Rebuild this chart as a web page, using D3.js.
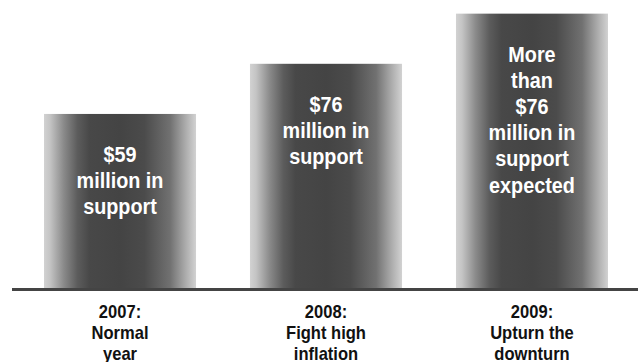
<!DOCTYPE html>
<html>
<head>
<meta charset="utf-8">
<script src="https://cdn.jsdelivr.net/npm/d3@7"></script>
<style>
  html, body { margin: 0; padding: 0; background: #fff; }
  svg { display: block; }
  text { font-family: "Liberation Sans", Arial, sans-serif; font-weight: bold; }
</style>
</head>
<body>
<svg id="chart" width="638" height="362"></svg>
<script>
// Support per year (US$ million); 2009 is an expected figure above $76m
const years = ["2007", "2008", "2009"];
const support = [59, 76, 93];
const barLabels = [
  ["$59", "million in", "support"],
  ["$76", "million in", "support"],
  ["More", "than", "$76", "million in", "support", "expected"]
];
const categoryLabels = [
  ["2007:", "Normal", "year"],
  ["2008:", "Fight high", "inflation"],
  ["2009:", "Upturn the", "downturn"]
];

const svg = d3.select("#chart");
const baseY = 288;

const x = d3.scaleBand()
  .domain(years)
  .range([44, 608])
  .paddingInner(0.262)
  .paddingOuter(0);

const y = d3.scaleLinear()
  .domain([0, 100])
  .range([baseY, -7]);

// Horizontal shading across each column
const grad = svg.append("defs").append("linearGradient")
  .attr("id", "colShade")
  .attr("x1", "0%").attr("x2", "100%")
  .attr("y1", "0%").attr("y2", "0%");
[
  [0.00, "#d2d2d2"], [0.04, "#c4c4c4"], [0.13, "#8a8a8a"],
  [0.22, "#5c5c5c"], [0.30, "#484848"], [0.50, "#444444"],
  [0.66, "#4b4b4b"], [0.83, "#717171"], [0.93, "#ababab"],
  [1.00, "#d2d2d2"]
].forEach(([o, c]) => grad.append("stop").attr("offset", o).attr("stop-color", c));

const data = years.map((yr, i) => ({ yr, v: support[i], lines: barLabels[i], cat: categoryLabels[i] }));

svg.selectAll("rect.bar")
  .data(data)
  .join("rect")
  .attr("class", "bar")
  .attr("x", d => x(d.yr))
  .attr("y", d => y(d.v))
  .attr("width", x.bandwidth())
  .attr("height", d => y(0) - y(d.v))
  .attr("fill", "url(#colShade)");

// Baseline
svg.append("line")
  .attr("x1", 12).attr("x2", 638)
  .attr("y1", baseY + 1.5).attr("y2", baseY + 1.5)
  .attr("stroke", "#444")
  .attr("stroke-width", 3);

// Labels inside the columns (condensed by a horizontal squeeze)
const inner = svg.selectAll("g.inner")
  .data(data)
  .join("g")
  .attr("class", "inner")
  .attr("transform", d => `translate(${x(d.yr) + x.bandwidth() / 2},${y(d.v) + 48}) scale(0.9,1)`);
inner.selectAll("text")
  .data(d => d.lines)
  .join("text")
  .attr("x", 0)
  .attr("y", (t, i) => i * 26.2)
  .attr("text-anchor", "middle")
  .attr("font-size", 22)
  .attr("fill", "#fff")
  .text(t => t);

// Category labels under the baseline
const cats = svg.selectAll("g.cat")
  .data(data)
  .join("g")
  .attr("class", "cat")
  .attr("transform", d => `translate(${x(d.yr) + x.bandwidth() / 2},318) scale(0.92,1)`);
cats.selectAll("text")
  .data(d => d.cat)
  .join("text")
  .attr("x", 0)
  .attr("y", (t, i) => i * 20.8)
  .attr("text-anchor", "middle")
  .attr("font-size", 18)
  .attr("fill", "#111")
  .text(t => t);
</script>
</body>
</html>
